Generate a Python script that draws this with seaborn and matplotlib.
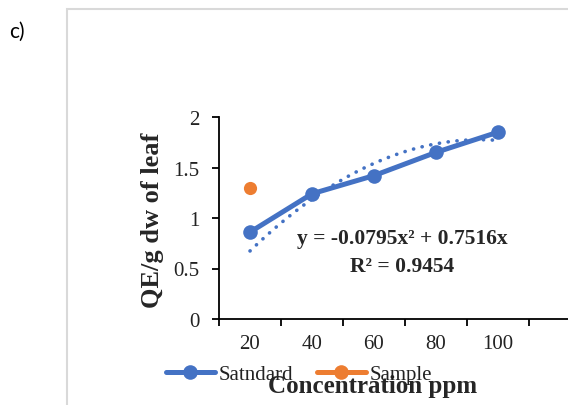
import numpy as np
import pandas as pd
import matplotlib.pyplot as plt
import seaborn as sns
from matplotlib.lines import Line2D
from matplotlib.patches import Rectangle

# data
conc = ["20", "40", "60", "80", "100"]
standard = [0.86, 1.24, 1.42, 1.65, 1.85]
sample_conc = ["20"]
sample = [1.30]
eq_text = "y = -0.0795x² + 0.7516x"
r2_text = "R² = 0.9454"

blue = "#4472C4"
orange = "#ED7D31"

sns.set_theme(style="white")
plt.rcParams["font.family"] = ["Liberation Serif", "DejaVu Serif"]

fig = plt.figure(figsize=(5.68, 4.06), dpi=100)
ax = fig.add_axes([219 / 568, 1 - 320 / 406, 1 - 219 / 568, 202 / 406])

pos = np.arange(1, len(conc) + 1)
df = pd.DataFrame({"pos": pos, "val": standard})

# polynomial trendline through origin, order 2 (Excel style)
A = np.column_stack([pos**2, pos]).astype(float)
coef = np.linalg.lstsq(A, np.array(standard), rcond=None)[0]
xs = np.linspace(1, len(conc), 100)
trend = coef[0] * xs**2 + coef[1] * xs
ax.plot(xs, trend, color=blue, lw=2.6, linestyle=(0, (0.05, 2.4)),
        dash_capstyle="round", zorder=2)

sns.lineplot(data=df, x="pos", y="val", ax=ax, color=blue, lw=3.6,
             marker="o", markersize=10.5, markeredgewidth=0, zorder=3)
sample_pos = [conc.index(c) + 1 for c in sample_conc]
sns.scatterplot(x=sample_pos, y=sample, ax=ax, color=orange, s=90,
                linewidth=0, zorder=3)

ax.set_xlim(0.5, 0.5 + (568 - 219) / 62)
ax.set_ylim(0, 2)
ax.set_yticks([0, 0.5, 1, 1.5, 2])
ax.set_yticklabels(["0", "0.5", "1", "1.5", "2"])
ax.set_xticks(np.arange(0.5, len(conc) + 1, 1))
ax.set_xticklabels([])
ax.set_xticks(pos, minor=True)
ax.set_xticklabels(conc, minor=True)
ax.tick_params(axis="x", which="major", direction="out", length=5, width=1.3,
               color="black", bottom=True)
ax.tick_params(axis="x", which="minor", length=0, pad=11, labelsize=15,
               labelcolor="#222222")
ax.tick_params(axis="y", direction="out", length=5, width=1.3, color="black",
               left=True, pad=9, labelsize=15, labelcolor="#222222")

for s in ["top", "right"]:
    ax.spines[s].set_visible(False)
for s in ["left", "bottom"]:
    ax.spines[s].set_color("black")
    ax.spines[s].set_linewidth(1.3)
ax.set_xlabel("")
ax.set_ylabel("")
ax.patch.set_alpha(0)

fig.text(152 / 568, 1 - 220 / 406, "QE/g dw of leaf", rotation=90,
         ha="center", va="center", fontsize=19, fontweight="bold")
fig.text(373 / 568, 1 - 387 / 406, "Concentration ppm", ha="center",
         va="center", fontsize=18, fontweight="bold")

fig.text(402 / 568, 1 - 239 / 406, eq_text, ha="center", va="center",
         fontsize=15.5, fontweight="bold")
fig.text(402 / 568, 1 - 267 / 406, r2_text, ha="center", va="center",
         fontsize=15.5, fontweight="bold")

handles = [
    Line2D([], [], color=blue, lw=3.6, marker="o", markersize=10.5,
           markeredgewidth=0),
    Line2D([], [], color=orange, lw=3.6, marker="o", markersize=10.5,
           markeredgewidth=0),
]
fig.legend(handles, ["Satndard", "Sample"], ncol=2, frameon=False,
           loc="center left", bbox_to_anchor=(166 / 568, 1 - 375 / 406),
           borderpad=0, borderaxespad=0, handlelength=2.35,
           handletextpad=0.2, columnspacing=1.1, fontsize=15,
           labelcolor="#222222")

fig.patches.append(Rectangle((67 / 568, -0.1), 1.0, 1.1 - 10 / 406,
                             transform=fig.transFigure, fill=False,
                             edgecolor="#d9d9d9", lw=1.5))
fig.text(9 / 568, 1 - 32 / 406, "c)", ha="left", va="center", fontsize=15,
         family=["Lato", "DejaVu Sans"], color="black")

fig.savefig("out.png", dpi=100)
